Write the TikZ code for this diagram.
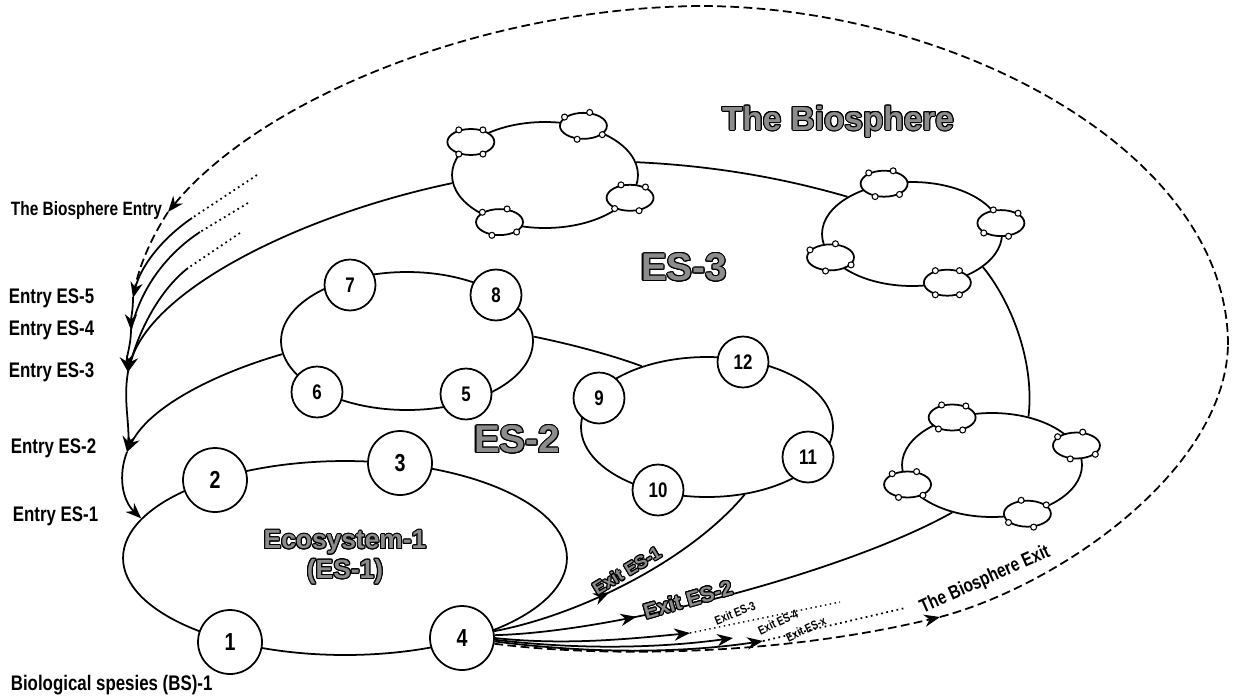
\documentclass[tikz,border=0pt]{standalone}
\usepackage{fontspec}
\setmainfont{Liberation Sans}
\newfontfamily\condfont[FakeStretch=0.8]{Liberation Sans}
\usepackage{contour}
\contourlength{0.6pt}
\contournumber{16}
\usetikzlibrary{shapes.geometric}
\usetikzlibrary{positioning}
\usetikzlibrary{arrows.meta}
\usetikzlibrary{decorations.markings}

% grey letters with a black rim
\newcommand{\hollow}[1]{{\color{black!45}\contour{black}{#1}}}
\newcommand{\fsize}[1]{\fontsize{#1}{#1}\selectfont}

\begin{document}
\begin{tikzpicture}[x=0.02cm,y=-0.02cm,line width=1pt,>={Stealth[length=9pt,width=7pt]},
	eco/.style={ellipse,draw,inner sep=0pt},
	species/.style={circle,draw,fill=white,inner sep=0pt,minimum size=1.28cm,font=\condfont\bfseries\fsize{14}},
	minispecies/.style={species,minimum size=1.02cm,font=\condfont\bfseries\fsize{12}},
	subeco/.style={ellipse,draw,fill=white,inner sep=0pt,minimum width=0.94cm,minimum height=0.52cm},
	spot/.style={circle,draw,fill=white,inner sep=0pt,minimum size=0.12cm,line width=0.6pt},
	entrytext/.style={anchor=west,inner sep=0pt,font=\condfont\bfseries\fsize{12}},
	midarrow/.style={postaction={decorate},decoration={markings,mark=at position #1 with {\arrow{>}}}},
	bio/.style={dash pattern=on 5pt off 2.5pt}]
	
	\useasboundingbox (0,0) rectangle (1236,697);
	
	% ecosystems
	\node[eco,minimum width=8.88cm,minimum height=3.88cm] (es1) at (345,558) {};
	\node[eco,minimum width=5.04cm,minimum height=2.76cm] (e58) at (407,341) {};
	\node[eco,minimum width=5.04cm,minimum height=2.8cm] (e912) at (707,427) {};
	\node[eco,minimum width=3.72cm,minimum height=2.12cm] (es3a) at (545,175) {};
	\node[eco,minimum width=3.6cm,minimum height=2.08cm] (es3b) at (912,234) {};
	\node[eco,minimum width=3.6cm,minimum height=2.08cm] (es3c) at (992,465) {};
	
	% species
	\node[species] (n1) at (230,642) {1};
	\node[species] (n2) at (215,480) {2};
	\node[species] (n3) at (400,463) {3};
	\node[species] (n4) at (462,638) {4};
	\foreach \n/\x/\y in {5/466/394,6/317/392,7/350/285,8/496/295,9/599/398,10/658/490,11/808/457,12/743/362}
		\node[minispecies] (n\n) at (\x,\y) {\n};
	
	% small ecosystems of ES-3
	\foreach \c/\a/\o in {es3a/156/0,es3a/52/20,es3a/345/-10,es3a/226/15,
		es3b/119/10,es3b/7/-15,es3b/196/25,es3b/306/0,
		es3c/130/-5,es3c/13/20,es3c/193/10,es3c/306/-20}{
		\node[subeco] (\c-\a) at (\c.\a) {};
		\foreach \b in {45,135,225,315}{
			\pgfmathtruncatemacro\ang{mod(\b+\o,360)}
			\node[spot] (\c-\a-\b) at (\c-\a.\ang) {};
		}
	}
	
	% points of the entries and exits
	\coordinate (bin) at (168,212);
	\coordinate (in5) at (133,298);
	\coordinate (in4) at (131,330);
	\coordinate (in3) at (128,372);
	\coordinate (in2) at (127,452);
	\coordinate (bout) at (940,617);
	\coordinate (bright) at (1228,345);
	\coordinate (btop) at (700,6);
	\coordinate (x3) at (690,633);
	\coordinate (x4) at (733,638);
	\coordinate (x5) at (763,641);
	\coordinate (d1) at (840,602);
	\coordinate (d2) at (905,608);
	\coordinate (f5) at (257,175);
	\coordinate (g5) at (192,218);
	\coordinate (f4) at (248,203);
	\coordinate (g4) at (200,232);
	\coordinate (f3) at (240,233);
	\coordinate (g3) at (188,268);
	
	% the biosphere
	\draw[bio,->] (n4.350) .. controls (580,655) and (760,660) .. (bout);
	\draw[bio] (bout) .. controls (1060,585) and (1225,470) .. (bright);
	\draw[bio] (bright) .. controls (1228,150) and (950,6) .. (btop);
	\draw[bio,->] (btop) .. controls (480,8) and (260,100) .. (bin);
	\draw[bio] (bin) .. controls (150,240) and (137,270) .. (in5);
	
	% entries
	\draw[dotted] (f5) -- (g5);
	\draw[->] (g5) .. controls (160,240) and (140,268) .. (in5);
	\draw[dotted] (f4) -- (g4);
	\draw (g4) .. controls (165,255) and (140,290) .. (in4);
	\draw[dotted] (f3) -- (g3);
	\draw (g3) .. controls (160,290) and (138,330) .. (in3);
	\draw[->] (in5) .. controls (133,310) and (131,318) .. (in4);
	\draw[->] (in4) .. controls (131,345) and (126,358) .. (in3);
	\draw[->] (in3) .. controls (123,400) and (130,425) .. (in2);
	\draw[->] (in2) .. controls (118,475) and (122,500) .. (es1.169);
	\draw[->] (es3a.185) .. controls (300,215) and (150,290) .. (in3);
	\draw[->] (e58.186) .. controls (220,372) and (150,405) .. (in2);
	
	% links inside ES-2 and ES-3
	\draw (e58.2) .. controls (580,346) and (620,358) .. (e912.137);
	\draw (es3a.8) .. controls (720,166) and (790,180) .. (es3b.150);
	\draw (es3b.335) .. controls (1010,300) and (1035,360) .. (es3c.53);
	
	% exits
	\draw[midarrow=0.42] (n4.12) .. controls (580,615) and (690,560) .. (e912.299);
	\draw[midarrow=0.3] (n4.5) .. controls (620,632) and (850,570) .. (es3c.230);
	\draw[->] (n4.0) .. controls (560,645) and (620,640) .. (x3);
	\draw[->] (n4.357) .. controls (580,650) and (660,648) .. (x4);
	\draw[->] (n4.354) .. controls (600,655) and (690,652) .. (x5);
	\draw[dotted,line width=0.8pt] (x3) -- (d1);
	\draw[dotted] (x5) -- (d2);
	
	% texts
	\node[font=\bfseries\fsize{19}] (tbio) at (838,122) {\hollow{The Biosphere}};
	\node[font=\bfseries\fsize{22}] (tes3) at (684,268) {\hollow{ES-3}};
	\node[font=\bfseries\fsize{22}] (tes2) at (517,440) {\hollow{ES-2}};
	\node[font=\bfseries\fsize{15}] (tes1) at (345,543) {\hollow{Ecosystem-1}};
	\node[font=\bfseries\fsize{15}] (tes1b) at (345,572) {\hollow{(ES-1)}};
	
	\node[entrytext,font=\condfont\bfseries\fsize{11}] (lbin) at (10,210) {The Biosphere Entry};
	\node[entrytext] (l5) at (8,298) {Entry ES-5};
	\node[entrytext] (l4) at (8,330) {Entry ES-4};
	\node[entrytext] (l3) at (8,372) {Entry ES-3};
	\node[entrytext] (l2) at (10,448) {Entry ES-2};
	\node[entrytext] (l1) at (12,516) {Entry ES-1};
	\node[entrytext] (lbs) at (10,685) {Biological spesies (BS)-1};
	
	\node[rotate=31,font=\bfseries\fsize{10}] (lx1) at (627,571) {\hollow{Exit ES-1}};
	\node[rotate=16,font=\bfseries\fsize{12}] (lx2) at (688,600) {\hollow{Exit ES-2}};
	\node[rotate=22,font=\condfont\bfseries\fsize{7}] (lx3) at (735,613) {Exit ES-3};
	\node[rotate=25,font=\condfont\bfseries\fsize{7}] (lx4) at (778,622) {Exit ES-4};
	\node[rotate=25,font=\condfont\bfseries\fsize{7}] (lx5) at (806,629) {Exit ES-x};
	\node[rotate=24,font=\condfont\bfseries\fsize{11}] (lbout) at (985,580) {The Biosphere Exit};
\end{tikzpicture}
\end{document}
